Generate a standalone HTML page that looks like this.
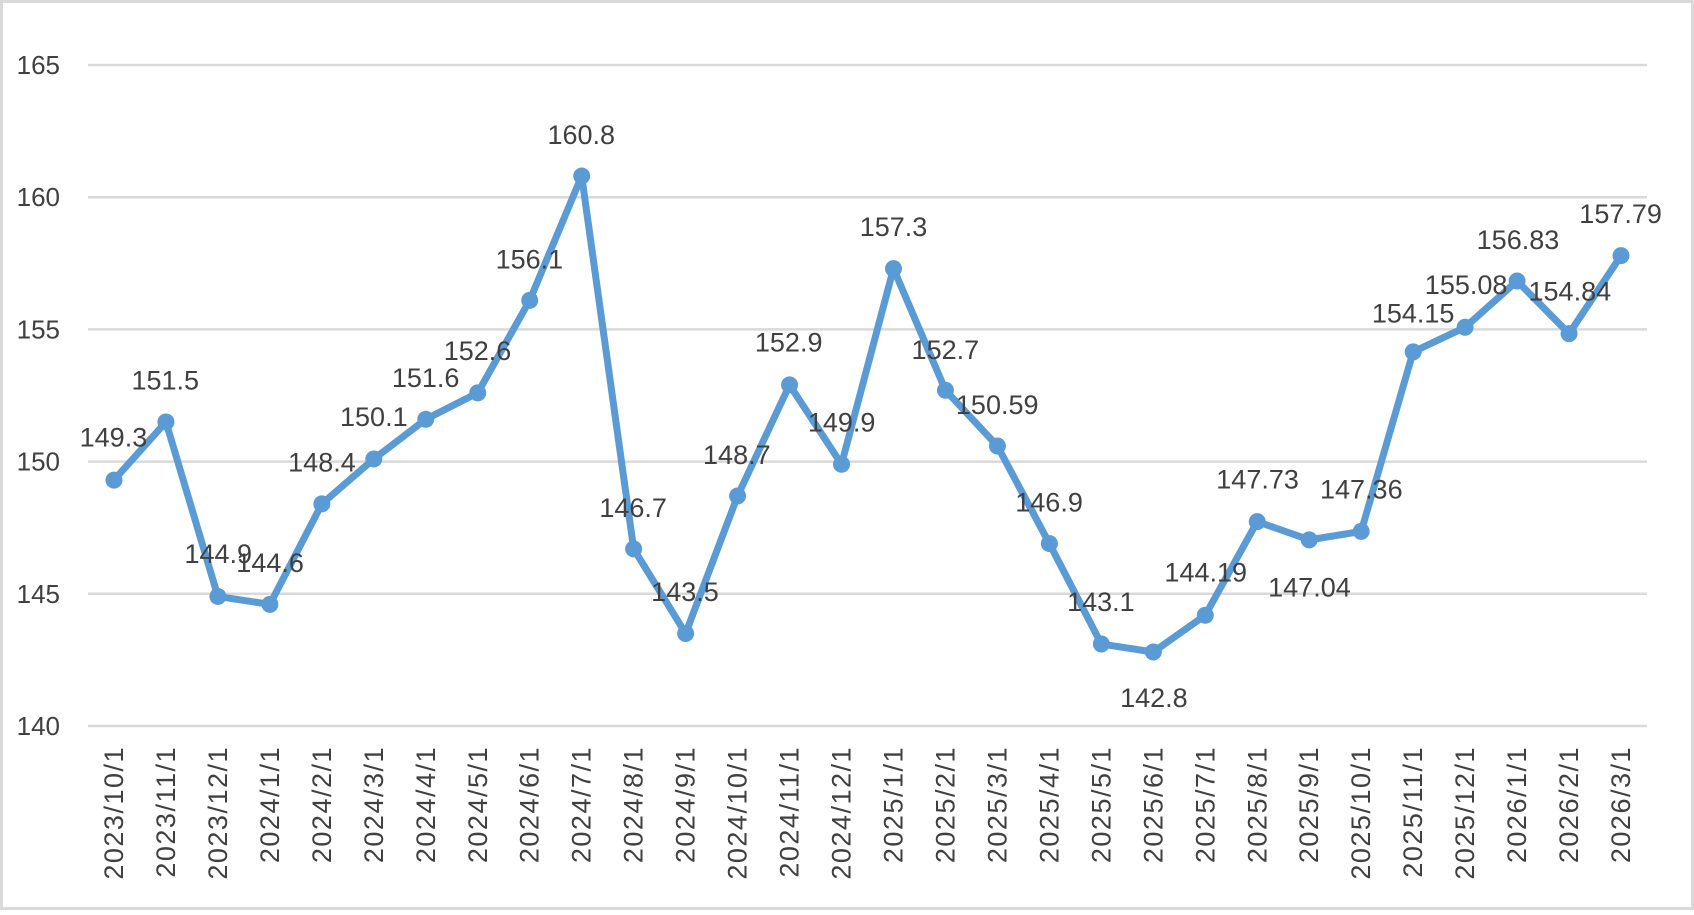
<!DOCTYPE html>
<html><head><meta charset="utf-8"><style>
body{margin:0;background:#fff}
svg text{font-family:"Liberation Sans",sans-serif;fill:#404040}
</style></head><body>
<svg id="s" width="1694" height="910" xmlns="http://www.w3.org/2000/svg">
<rect x="1.5" y="1.5" width="1691" height="907" fill="#fff" stroke="#d9d9d9" stroke-width="3"/>
<g id="g"></g>
</svg>
<script>
const vals=[149.3,151.5,144.9,144.6,148.4,150.1,151.6,152.6,156.1,160.8,146.7,143.5,148.7,152.9,149.9,157.3,152.7,150.59,146.9,143.1,142.8,144.19,147.73,147.04,147.36,154.15,155.08,156.83,154.84,157.79];
const labs=["149.3","151.5","144.9","144.6","148.4","150.1","151.6","152.6","156.1","160.8","146.7","143.5","148.7","152.9","149.9","157.3","152.7","150.59","146.9","143.1","142.8","144.19","147.73","147.04","147.36","154.15","155.08","156.83","154.84","157.79"];
const lp=[[105,405],[153,352],[202,513],[250,521],[298,428],[346,386],[394,350],[442,325],[490,240],[538,125],[586,470],[634,548],[682,421],[730,317],[779,391],[827,210],[875,324],[923,375],[971,465],[1019,557],[1068,646],[1116,530],[1164,444],[1212,544],[1260,453],[1308,290],[1357,264],[1405,222],[1453,270],[1500,198]];
const cats=["2023/10/1","2023/11/1","2023/12/1","2024/1/1","2024/2/1","2024/3/1","2024/4/1","2024/5/1","2024/6/1","2024/7/1","2024/8/1","2024/9/1","2024/10/1","2024/11/1","2024/12/1","2025/1/1","2025/2/1","2025/3/1","2025/4/1","2025/5/1","2025/6/1","2025/7/1","2025/8/1","2025/9/1","2025/10/1","2025/11/1","2025/12/1","2026/1/1","2026/2/1","2026/3/1"];
const X0=88,X1=1647,Y=v=>65+(165-v)*26.44,w=(X1-X0)/30,X=i=>X0+w*(i+0.5);
let h="";
for(let v=140;v<=165;v+=5){const y=Y(v);h+=`<line x1="${X0}" x2="${X1}" y1="${y}" y2="${y}" stroke="#d9d9d9" stroke-width="2.5"/><text x="60" y="${y}" font-size="26" text-anchor="end" dominant-baseline="central">${v}</text>`;}
h+=`<polyline fill="none" stroke="#5b9bd5" stroke-width="7" stroke-linejoin="round" points="${vals.map((v,i)=>X(i)+","+Y(v)).join(" ")}"/>`;
vals.forEach((v,i)=>{h+=`<circle cx="${X(i)}" cy="${Y(v)}" r="8.5" fill="#5b9bd5"/>`;});
lp.forEach((p,i)=>{h+=`<text x="${p[0]*1.0804}" y="${p[1]*1.0804}" font-size="27" text-anchor="middle" dominant-baseline="central">${labs[i]}</text>`;});
cats.forEach((c,i)=>{const x=X(i);h+=`<text transform="translate(${x},746) rotate(-90)" font-size="27" letter-spacing="1.5" text-anchor="end" dominant-baseline="central">${c}</text>`;});
document.getElementById("g").innerHTML=h;
</script>
</body></html>
